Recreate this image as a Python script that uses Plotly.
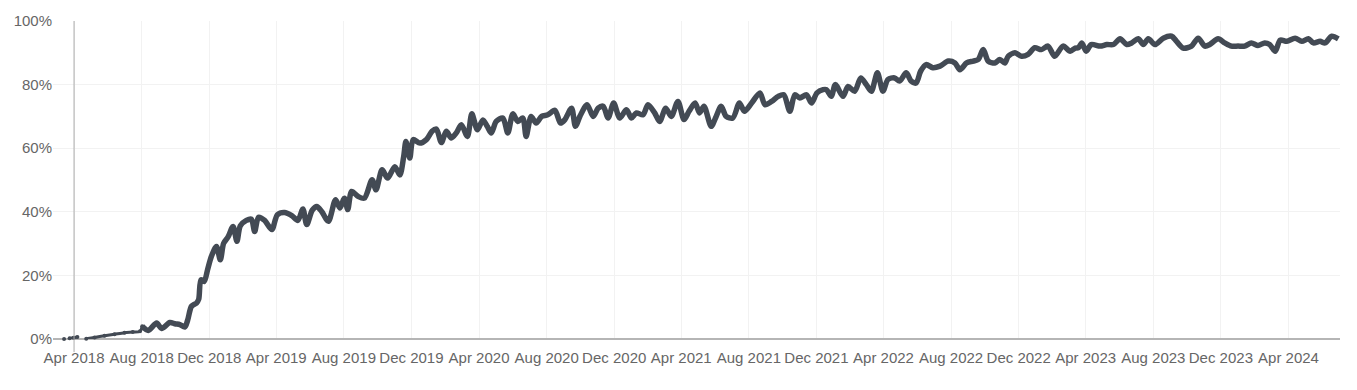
import plotly.graph_objects as go

dates = [
    "2018-03-14", "2018-03-19", "2018-03-24", "2018-03-31", "2018-04-07", "2018-04-15",
    "2018-04-23", "2018-05-08", "2018-05-26", "2018-06-13", "2018-07-01", "2018-07-16",
    "2018-07-29", "2018-08-02", "2018-08-13", "2018-08-28", "2018-09-06", "2018-09-21",
    "2018-09-30", "2018-10-09", "2018-10-18", "2018-10-23", "2018-10-30", "2018-11-08",
    "2018-11-12", "2018-11-16", "2018-11-22", "2018-11-28", "2018-12-05", "2018-12-14",
    "2018-12-21", "2018-12-27", "2019-01-04", "2019-01-13", "2019-01-20", "2019-01-26",
    "2019-02-06", "2019-02-15", "2019-02-21", "2019-02-28", "2019-03-11", "2019-03-24",
    "2019-04-03", "2019-04-16", "2019-04-29", "2019-05-10", "2019-05-19", "2019-05-26",
    "2019-06-05", "2019-06-13", "2019-06-22", "2019-07-04", "2019-07-17", "2019-07-25",
    "2019-08-02", "2019-08-08", "2019-08-15", "2019-08-27", "2019-09-07", "2019-09-21",
    "2019-09-28", "2019-10-09", "2019-10-19", "2019-11-01", "2019-11-10", "2019-11-17",
    "2019-11-21", "2019-11-28", "2019-12-04", "2019-12-16", "2019-12-28", "2020-01-07",
    "2020-01-15", "2020-01-24", "2020-02-02", "2020-02-11", "2020-02-20", "2020-02-29",
    "2020-03-11", "2020-03-19", "2020-03-29", "2020-04-08", "2020-04-16", "2020-04-23",
    "2020-05-02", "2020-05-14", "2020-05-23", "2020-06-01", "2020-06-10", "2020-06-19",
    "2020-06-25", "2020-07-04", "2020-07-13", "2020-07-23", "2020-08-03", "2020-08-16",
    "2020-08-26", "2020-09-03", "2020-09-15", "2020-09-22", "2020-09-30", "2020-10-13",
    "2020-10-24", "2020-11-02", "2020-11-11", "2020-11-20", "2020-11-30", "2020-12-11",
    "2020-12-23", "2021-01-01", "2021-01-10", "2021-01-22", "2021-01-31", "2021-02-12",
    "2021-02-21", "2021-03-04", "2021-03-14", "2021-03-26", "2021-04-06", "2021-04-15",
    "2021-04-26", "2021-05-04", "2021-05-12", "2021-05-25", "2021-06-03", "2021-06-12",
    "2021-06-21", "2021-07-03", "2021-07-15", "2021-07-24", "2021-08-06", "2021-08-21",
    "2021-08-30", "2021-09-11", "2021-09-23", "2021-10-03", "2021-10-14", "2021-10-23",
    "2021-11-01", "2021-11-13", "2021-11-22", "2021-12-02", "2021-12-13", "2021-12-19",
    "2021-12-28", "2022-01-04", "2022-01-18", "2022-01-27", "2022-02-08", "2022-02-19",
    "2022-03-01", "2022-03-10", "2022-03-21", "2022-03-31", "2022-04-09", "2022-04-21",
    "2022-04-30", "2022-05-12", "2022-05-21", "2022-05-30", "2022-06-07", "2022-06-17",
    "2022-06-29", "2022-07-12", "2022-07-27", "2022-08-08", "2022-08-17", "2022-08-29",
    "2022-09-10", "2022-09-19", "2022-09-28", "2022-10-07", "2022-10-19", "2022-10-28",
    "2022-11-06", "2022-11-12", "2022-11-24", "2022-12-06", "2022-12-18", "2022-12-30",
    "2023-01-11", "2023-01-23", "2023-02-04", "2023-02-19", "2023-03-04", "2023-03-13",
    "2023-03-19", "2023-03-25", "2023-04-02", "2023-04-11", "2023-04-27", "2023-05-09",
    "2023-05-21", "2023-06-02", "2023-06-14", "2023-06-23", "2023-07-05", "2023-07-14",
    "2023-07-23", "2023-08-04", "2023-08-19", "2023-09-03", "2023-09-12", "2023-09-24",
    "2023-10-09", "2023-10-21", "2023-11-02", "2023-11-11", "2023-11-26", "2023-12-08",
    "2023-12-20", "2024-01-01", "2024-01-13", "2024-01-25", "2024-02-06", "2024-02-18",
    "2024-02-27", "2024-03-08", "2024-03-17", "2024-03-29", "2024-04-13", "2024-04-25",
    "2024-05-07", "2024-05-16", "2024-05-28", "2024-06-06", "2024-06-18", "2024-06-30",
]

share_pct = [
    0.0, None, 0.2, 0.4, 0.6, None,
    0.1, 0.5, 1.0, 1.5, 2.0, 2.2,
    2.4, 4.0, 2.7, 5.0, 3.3, 5.2,
    4.8, 4.5, 3.8, 5.9, 10.3, 11.3,
    12.5, 18.6, 18.1, 21.8, 26.0, 29.1,
    24.9, 30.1, 32.1, 35.4, 30.7, 35.6,
    37.3, 37.7, 33.8, 38.3, 37.3, 34.4,
    39.1, 39.8, 38.8, 37.3, 40.9, 36.0,
    40.5, 41.7, 40.1, 37.0, 43.8, 41.2,
    44.3, 40.7, 46.4, 44.8, 44.3, 50.1,
    46.9, 53.2, 50.6, 54.2, 51.6, 57.4,
    62.1, 56.9, 62.7, 61.6, 62.7, 65.3,
    66.0, 61.8, 65.3, 63.2, 64.8, 67.4,
    63.7, 70.8, 65.8, 68.9, 66.8, 64.8,
    68.4, 69.5, 64.8, 70.8, 68.4, 69.5,
    63.7, 70.0, 67.9, 70.0, 70.5, 71.9,
    67.9, 69.0, 72.6, 66.9, 70.0, 73.7,
    70.0, 72.6, 73.2, 69.5, 74.2, 69.5,
    72.1, 69.5, 71.1, 70.5, 73.7, 71.1,
    68.4, 72.6, 70.0, 74.7, 69.0, 71.6,
    74.2, 71.1, 73.2, 66.9, 70.0, 73.2,
    70.0, 69.5, 74.2, 71.6, 74.2, 77.4,
    73.7, 74.7, 76.3, 76.8, 71.6, 76.8,
    75.8, 76.8, 74.2, 77.4, 78.4, 78.4,
    76.3, 80.0, 76.3, 79.4, 77.9, 82.1,
    80.0, 77.9, 83.7, 77.9, 81.6, 82.1,
    81.1, 83.7, 81.1, 80.5, 84.2, 86.3,
    85.3, 85.8, 87.4, 86.8, 84.7, 86.8,
    87.4, 87.9, 91.0, 87.4, 86.8, 87.9,
    86.8, 88.9, 90.0, 88.9, 89.5, 91.6,
    91.0, 92.1, 88.9, 92.1, 90.5, 91.5,
    91.6, 93.1, 90.5, 92.6, 92.1, 92.6,
    92.6, 94.4, 92.6, 93.1, 94.4, 92.6,
    94.4, 92.6, 94.6, 95.2, 93.6, 91.5,
    92.1, 94.6, 92.1, 92.6, 94.4, 93.1,
    92.1, 92.1, 92.1, 93.1, 92.3, 93.1,
    92.6, 90.5, 94.0, 93.6, 94.6, 93.6,
    94.4, 93.1, 93.6, 93.1, 95.2, 94.4,
]

# the thin early stretch (before the first jump) and the main stretch
split_index = 13

y_ticks = [0, 20, 40, 60, 80, 100]
y_labels = ["0%", "20%", "40%", "60%", "80%", "100%"]
marker_date = "2018-04-01"

line_color = "#434a54"
font = dict(family="Liberation Sans, Arial, sans-serif", size=15, color="#666666")

fig = go.Figure()
fig.add_trace(go.Scatter(
    x=dates[:split_index + 1], y=share_pct[:split_index + 1], mode="lines+markers",
    line=dict(color=line_color, width=3, shape="spline", smoothing=0.8),
    marker=dict(color=line_color, size=4),
    connectgaps=False, cliponaxis=False, showlegend=False,
))
fig.add_trace(go.Scatter(
    x=dates[split_index:], y=share_pct[split_index:], mode="lines",
    line=dict(color=line_color, width=5.5, shape="spline", smoothing=0.8),
    cliponaxis=False, showlegend=False,
))

fig.add_shape(type="line", xref="x", yref="paper", x0=marker_date, x1=marker_date,
              y0=-0.041, y1=1, line=dict(color="#ababab", width=1), layer="above")

# page body adds an 8px offset; size and margins compensate for it
fig.update_layout(
    width=1349, height=382,
    margin=dict(l=45, r=17, t=13, b=51, autoexpand=False),
    paper_bgcolor="white", plot_bgcolor="white",
    font=font, showlegend=False,
)
fig.update_xaxes(
    type="date", range=["2018-02-22", "2024-07-03"],
    tick0="2018-04-01", dtick="M4", tickformat="%b %Y",
    showgrid=True, gridcolor="#f2f2f2", gridwidth=1,
    showline=False, zeroline=False, ticks="", tickfont=font, automargin=False,
    ticklabelstandoff=8,
)
fig.update_yaxes(
    range=[0, 100], tickvals=y_ticks, ticktext=y_labels,
    showgrid=True, gridcolor="#f2f2f2", gridwidth=1,
    zeroline=True, zerolinecolor="#b5b5b5", zerolinewidth=1.5,
    showline=False, ticks="", tickfont=font, automargin=False,
)

fig.write_html("out.html")
